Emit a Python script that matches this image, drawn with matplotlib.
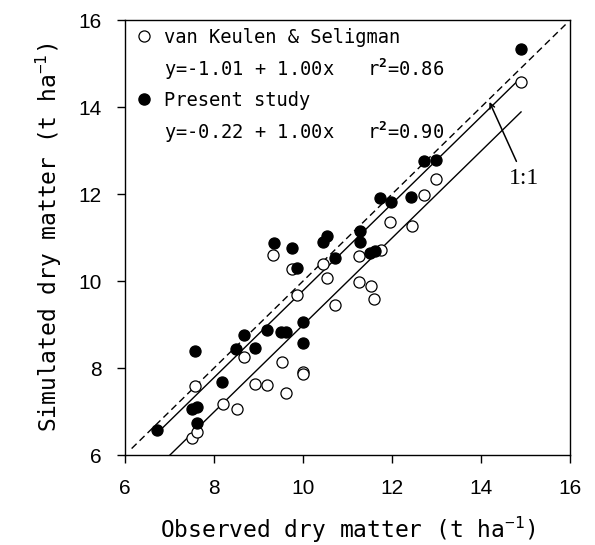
import matplotlib
matplotlib.use("Agg")
import matplotlib.pyplot as plt
from matplotlib.lines import Line2D
import numpy as np

plt.rcParams['font.family'] = ['DejaVu Sans Mono']
plt.rcParams['mathtext.fontset'] = 'custom'
plt.rcParams['mathtext.rm'] = 'DejaVu Sans Mono'
plt.rcParams['mathtext.it'] = 'DejaVu Sans Mono'
plt.rcParams['mathtext.bf'] = 'DejaVu Sans Mono:bold'

# Present study (filled circles)
present_obs = [6.72, 7.57, 7.50, 7.62, 7.62, 8.18, 8.50, 8.67, 8.92, 9.19,
               9.50, 9.61, 9.99, 10.00, 9.35, 9.76, 9.86, 10.46, 10.54, 10.72,
               11.28, 11.28, 11.50, 11.62, 11.74, 11.98, 12.43, 12.73, 13.00, 14.89]
present_sim = [6.57, 8.39, 7.06, 7.10, 6.74, 7.68, 8.44, 8.75, 8.47, 8.87,
               8.82, 8.84, 8.58, 9.06, 10.87, 10.76, 10.31, 10.89, 11.03, 10.53,
               11.16, 10.89, 10.65, 10.69, 11.91, 11.83, 11.93, 12.77, 12.79, 15.34]

# van Keulen & Seligman (open circles)
vk_obs = [7.57, 7.51, 7.62, 8.20, 8.52, 8.67, 8.92, 9.19, 9.52, 9.61,
          9.99, 9.99, 9.33, 9.76, 9.86, 10.46, 10.55, 10.72, 11.26, 11.27,
          11.53, 11.59, 11.76, 11.96, 12.45, 12.73, 13.00, 14.89]
vk_sim = [7.58, 6.40, 6.54, 7.18, 7.06, 8.26, 7.64, 7.60, 8.14, 7.42,
          7.92, 7.86, 10.61, 10.27, 9.67, 10.40, 10.07, 9.44, 9.97, 10.57,
          9.89, 9.58, 10.71, 11.37, 11.27, 11.99, 12.35, 14.58]

# regression lines: intercept, slope, x-range
present_fit = (-0.22, 1.00)
present_xrange = [6.8, 14.9]
vk_fit = (-1.01, 1.00)
vk_xrange = [7.01, 14.9]
one_to_one_range = [6.15, 15.9]

ticks = [6, 8, 10, 12, 14, 16]

fig = plt.figure(figsize=(5.95, 5.45), dpi=100)
ax = fig.add_axes([0.210, 0.165, 0.748, 0.798])

# 1:1 line
ax.plot(one_to_one_range, one_to_one_range, color='black', lw=1.0,
        linestyle=(0, (5, 3)), zorder=2)
# fitted lines
xp = np.array(present_xrange)
ax.plot(xp, present_fit[0] + present_fit[1] * xp, color='black', lw=1.0, zorder=2)
xv = np.array(vk_xrange)
ax.plot(xv, vk_fit[0] + vk_fit[1] * xv, color='black', lw=1.0, zorder=2)

ax.plot(vk_obs, vk_sim, linestyle='none', marker='o', markersize=8,
        markerfacecolor='white', markeredgecolor='black', markeredgewidth=0.9, zorder=3)
ax.plot(present_obs, present_sim, linestyle='none', marker='o', markersize=8,
        markerfacecolor='black', markeredgecolor='black', markeredgewidth=0.9, zorder=4)

ax.annotate('1:1', xy=(14.19, 14.12), xytext=(14.97, 12.36),
            ha='center', va='center', fontsize=17, family='Liberation Serif',
            arrowprops=dict(arrowstyle='->', lw=1.1, color='black',
                            shrinkA=3, shrinkB=0, mutation_scale=9))

ax.set_xlim(6, 16)
ax.set_ylim(6, 16)
ax.set_xticks(ticks)
ax.set_yticks(ticks)
ax.set_xticklabels([str(t) for t in ticks], family='Liberation Sans', fontsize=15)
ax.set_yticklabels([str(t) for t in ticks], family='Liberation Sans', fontsize=15)
ax.tick_params(direction='out', length=6, width=1.0, pad=11)
for s in ax.spines.values():
    s.set_linewidth(1.0)

ax.set_xlabel('Observed dry matter (t ha$^{-1}$)', fontsize=16.5, labelpad=12)
ax.set_ylabel('Simulated dry matter (t ha$^{-1}$)', fontsize=16.5, labelpad=10)

handles = [
    Line2D([], [], linestyle='none', marker='o', markersize=8,
           markerfacecolor='white', markeredgecolor='black', markeredgewidth=0.9),
    Line2D([], [], linestyle='none'),
    Line2D([], [], linestyle='none', marker='o', markersize=8,
           markerfacecolor='black', markeredgecolor='black'),
    Line2D([], [], linestyle='none'),
]
labels = [
    'van Keulen & Seligman',
    'y=-1.01 + 1.00x   r$^{\\mathbf{2}}$=0.86',
    'Present study',
    'y=-0.22 + 1.00x   r$^{\\mathbf{2}}$=0.90',
]
ax.legend(handles, labels, loc='upper left', frameon=False, fontsize=13.5,
          handlelength=1.2, handletextpad=0.5, borderpad=0.0,
          borderaxespad=0.4, labelspacing=0.5)

fig.savefig('out.png', dpi=100)
